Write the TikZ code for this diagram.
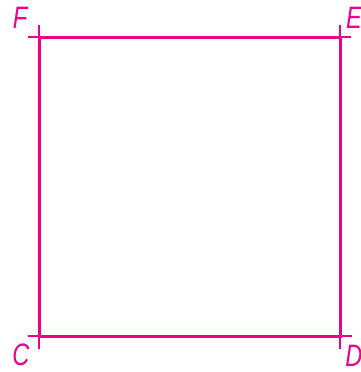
\documentclass[tikz,border=0pt]{standalone}
\usepackage{fontspec}
\setmainfont{Liberation Sans}[FakeStretch=0.76]
\definecolor{mag}{RGB}{236,0,140}
\begin{document}
\begin{tikzpicture}[x=1pt,y=-1pt,
  side/.style={draw=mag,line width=3pt},
  ext/.style={draw=mag,line width=1.2pt},
  lab/.style={text=mag,inner sep=0pt,font=\fontsize{31}{31}\selectfont\itshape}]
\useasboundingbox (0,0) rectangle (361,372);
\coordinate (F) at (39,37);
\coordinate (E) at (340,37);
\coordinate (C) at (39,336);
\coordinate (D) at (340,336);
\draw[side] (F) -- (E) -- (D) -- (C) -- cycle;
\draw[ext] (F) -- ++(-11,0) (F) -- ++(0,-12);
\draw[ext] (E) -- ++(11,0) (E) -- ++(0,-12);
\draw[ext] (C) -- ++(-11,0) (C) -- ++(0,13);
\draw[ext] (D) -- ++(12,0) (D) -- ++(0,13);
\node[lab] (lF) at (20,18) {F};
\node[lab] (lE) at (354,18) {E};
\node[lab] (lC) at (21,355) {C};
\node[lab] (lD) at (354,356) {D};
\end{tikzpicture}
\end{document}
